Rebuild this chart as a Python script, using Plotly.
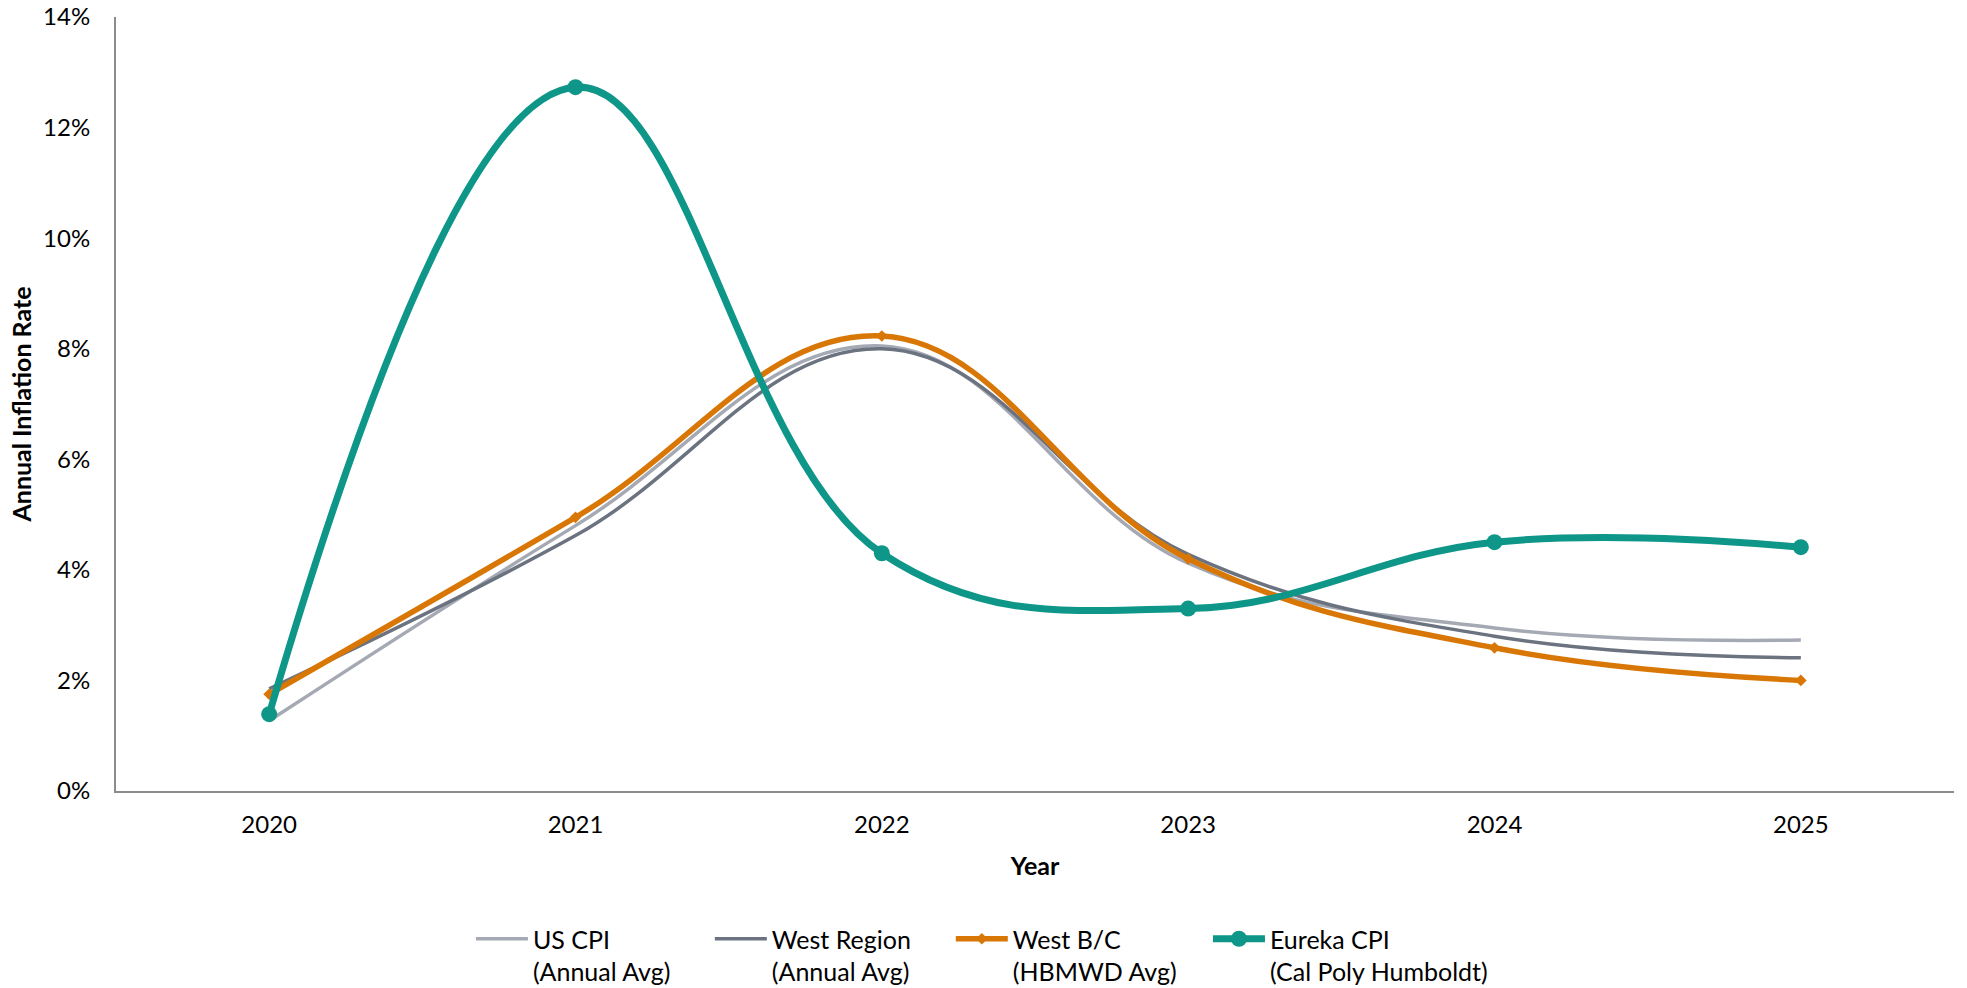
import plotly.graph_objects as go

years = ["2020", "2021", "2022", "2023", "2024", "2025"]
us_cpi = [1.27, 4.80, 8.05, 4.12, 2.95, 2.73]
west_region = [1.85, 4.62, 8.00, 4.28, 2.80, 2.41]
west_bc = [1.75, 4.95, 8.23, 4.20, 2.59, 2.00]
eureka_cpi = [1.39, 12.73, 4.30, 3.30, 4.50, 4.41]
y_ticks = [0, 2, 4, 6, 8, 10, 12, 14]
y_tick_labels = ["0%", "2%", "4%", "6%", "8%", "10%", "12%", "14%"]

FONT = "Lato"
SMOOTH = 1.15

fig = go.Figure()
fig.add_trace(go.Scatter(
    x=years, y=us_cpi, name="US CPI<br>(Annual Avg)", mode="lines", legend="legend",
    line=dict(color="#A4A9B3", width=3.5, shape="spline", smoothing=SMOOTH),
))
fig.add_trace(go.Scatter(
    x=years, y=west_region, name="West Region<br>(Annual Avg)", mode="lines", legend="legend2",
    line=dict(color="#6B7280", width=3.5, shape="spline", smoothing=SMOOTH),
))
fig.add_trace(go.Scatter(
    x=years, y=west_bc, name="West B/C<br>(HBMWD Avg)", mode="lines+markers", legend="legend3",
    line=dict(color="#D97706", width=5.5, shape="spline", smoothing=SMOOTH),
    marker=dict(symbol="diamond", size=9, color="#D97706"),
))
fig.add_trace(go.Scatter(
    x=years, y=eureka_cpi, name="Eureka CPI<br>(Cal Poly Humboldt)", mode="lines+markers", legend="legend4",
    line=dict(color="#0E9688", width=7, shape="spline", smoothing=SMOOTH),
    marker=dict(symbol="circle", size=16, color="#0E9688"),
))


def leg(x):
    return dict(
        orientation="h", x=x, xanchor="left", y=-0.1615, yanchor="top",
        font=dict(family=FONT, size=25, color="#000000"),
        valign="top", itemwidth=52, bgcolor="rgba(0,0,0,0)",
    )


fig.update_layout(
    width=1967, height=988,
    margin=dict(l=116, r=13, t=17, b=197, autoexpand=False),
    paper_bgcolor="white", plot_bgcolor="white",
    font=dict(family=FONT, size=24, color="#000000"),
    showlegend=True,
    legend=leg(0.1931),
    legend2=leg(0.3231),
    legend3=leg(0.4542),
    legend4=leg(0.5941),
    xaxis=dict(
        type="category", range=[-0.5, 5.5],
        showline=True, linecolor="#8C8C8C", linewidth=2,
        showgrid=False, zeroline=False, ticks="",
        tickfont=dict(family=FONT, size=24),
        ticklabelstandoff=11,
        title=dict(text="<b>Year</b>", font=dict(family=FONT, size=25), standoff=21),
    ),
    yaxis=dict(
        range=[0, 14], tickvals=y_ticks, ticktext=y_tick_labels,
        showline=True, linecolor="#8C8C8C", linewidth=2,
        showgrid=False, zeroline=False, ticks="",
        tickfont=dict(family=FONT, size=24),
        ticklabelstandoff=19,
        title=dict(text="<b>Annual Inflation Rate</b>", font=dict(family=FONT, size=25), standoff=4),
    ),
)

fig.write_html(
    "out.html",
    config={"displayModeBar": False},
    post_script="document.body.style.margin='0';document.body.style.overflow='hidden';",
)
